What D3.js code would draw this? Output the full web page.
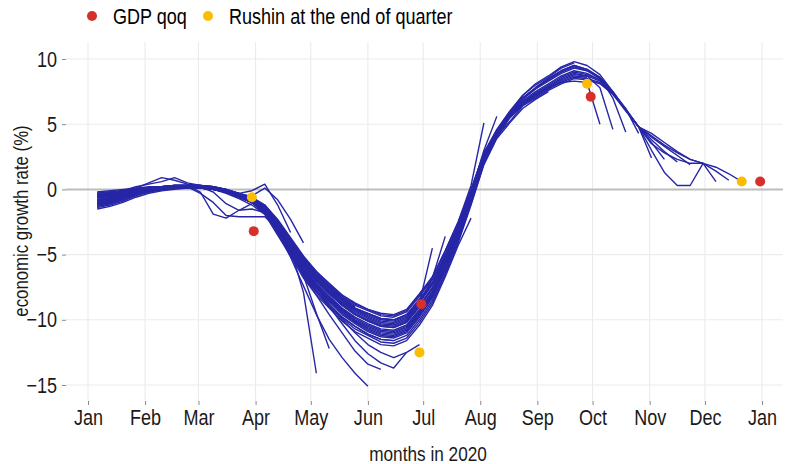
<!DOCTYPE html>
<html>
<head>
<meta charset="utf-8">
<script src="https://cdn.jsdelivr.net/npm/d3@7"></script>
<style>
body { margin: 0; background: #fff; }
text { font-family: "Liberation Sans", Arial, sans-serif; }
</style>
</head>
<body>
<svg id="chart"></svg>
<script>
// month ticks (first of each month) and their labels
const monthTicks = ['2020-01-01','2020-02-01','2020-03-01','2020-04-01','2020-05-01','2020-06-01',
  '2020-07-01','2020-08-01','2020-09-01','2020-10-01','2020-11-01','2020-12-01','2021-01-01']
const monthLabels = ['Jan','Feb','Mar','Apr','May','Jun','Jul','Aug','Sep','Oct','Nov','Dec','Jan']
const yTicks = [10, 5, 0, -5, -10, -15]

// GDP qoq at quarter ends
const gdpDates = ['2020-03-31','2020-06-30','2020-09-30','2020-12-31']
const gdpValues = [-3.2, -8.8, 7.1, 0.6]
// Rushin estimate at the end of each quarter
const rushinDates = ['2020-03-30','2020-06-29','2020-09-28','2020-12-21']
const rushinValues = [-0.6, -12.5, 8.1, 0.6]

// weekly nowcast vintages, each starts Mon 6 Jan 2020, one value per week
const vintages = [
  [-0.6,-0.4,-0.2,0.1,0.5,0.9,0.7,0.4,0.3,0.2,-0.1,-0.3],
  [-0.4,-0.3,-0.2,0.0,0.1,0.2,0.3,0.3,-0.2,-1.9,-2.2,-1.6,-1.1],
  [-0.5,-0.3,-0.1,0.2,0.4,0.6,0.9,0.5,0.3,0.2,0.0,-0.3,-0.6,-1.2],
  [-0.3,-0.2,-0.1,0.0,0.1,0.2,0.3,0.3,0.3,0.2,0.0,-0.3,-0.1,0.4,-1.2,-3.3],
  [-0.4,-0.3,-0.1,0.0,0.1,0.2,0.3,0.3,0.2,0.1,-0.1,-0.4,-0.5,0.1,-0.8,-2.3,-4.1],
  [-0.5,-0.4,-0.2,-0.1,0.1,0.2,0.2,0.2,-0.3,-1.0,-2.0,-2.1,-2.1,-2.1,-3.0,-4.6,-7.9,-14.1],
  [-0.6,-0.5,-0.3,-0.1,0.1,0.2,0.3,0.3,0.2,-0.2,-1.1,-1.6,-1.5,-1.8,-2.9,-4.4,-6.6,-9.5,-12.2],
  [-0.9,-0.7,-0.5,-0.2,0.0,0.1,0.2,0.2,0.2,0.1,-0.2,-0.5,-0.9,-1.7,-3.1,-4.6,-6.2,-7.4,-8.4,-9.3],
  [-1.0,-0.8,-0.5,-0.3,-0.1,0.1,0.2,0.2,0.1,0.0,-0.2,-0.5,-0.9,-1.3,-2.5,-3.9,-5.3,-6.5,-7.4,-8.3,-9.0],
  [-0.7,-0.5,-0.3,-0.1,0.0,0.1,0.2,0.2,0.1,0.0,-0.3,-0.7,-1.2,-1.9,-3.3,-5.2,-7.4,-9.6,-11.5,-12.9,-14.1,-15.1],
  [-1.1,-0.9,-0.6,-0.3,-0.1,0.0,0.1,0.2,0.1,0.0,-0.2,-0.6,-1.0,-1.8,-3.2,-4.9,-6.6,-8.1,-9.6,-11.0,-12.4,-13.4,-13.8],
  [-0.8,-0.6,-0.4,-0.2,0.0,0.1,0.2,0.2,0.2,0.1,-0.1,-0.5,-0.8,-1.8,-3.3,-4.9,-6.5,-7.8,-8.8,-9.8,-10.5,-11.1,-11.5,-11.6],
  [-1.2,-1.0,-0.7,-0.4,-0.1,0.0,0.1,0.2,0.2,0.1,-0.1,-0.5,-0.9,-1.7,-3.1,-4.7,-6.3,-7.7,-9.0,-10.3,-11.6,-12.6,-13.3,-13.7,-12.5],
  [-1.5,-1.3,-1.0,-0.6,-0.3,-0.1,0.0,0.1,0.1,0.0,-0.2,-0.6,-1.0,-1.6,-2.9,-4.5,-6.1,-7.5,-8.8,-10.0,-11.0,-11.9,-12.5,-12.9,-12.5,-11.9],
  [-0.4,-0.3,-0.2,0.0,0.1,0.2,0.2,0.2,0.2,0.1,-0.1,-0.4,-0.7,-1.3,-2.5,-3.9,-5.4,-6.6,-7.5,-8.4,-9.1,-9.5,-9.9,-10.0,-9.6,-8.7,-4.5],
  [-0.5,-0.4,-0.2,-0.1,0.1,0.2,0.2,0.2,0.2,0.1,-0.1,-0.4,-0.7,-1.4,-2.7,-4.2,-5.7,-6.9,-7.8,-8.7,-9.4,-9.9,-10.3,-10.4,-10.0,-8.8,-6.8,-3.6],
  [-1.0,-0.8,-0.5,-0.3,-0.1,0.1,0.2,0.2,0.1,0.0,-0.2,-0.5,-0.9,-1.7,-3.1,-4.7,-6.2,-7.5,-8.5,-9.4,-10.1,-10.7,-11.1,-11.2,-10.8,-9.6,-8.1,-6.0,-3.7],
  [-1.4,-1.2,-0.9,-0.5,-0.2,0.0,0.1,0.2,0.2,0.1,-0.1,-0.5,-0.9,-1.9,-3.5,-5.1,-6.8,-8.1,-9.1,-10.1,-10.9,-11.4,-11.9,-12.0,-11.6,-10.4,-8.9,-6.7,-4.3,-2.2],
  [-0.3,-0.2,-0.1,0.0,0.1,0.2,0.3,0.3,0.3,0.2,0.0,-0.3,-0.6,-1.2,-2.3,-3.7,-5.1,-6.3,-7.2,-8.1,-8.7,-9.2,-9.5,-9.6,-9.2,-8.0,-6.7,-4.7,-2.5,0.3,5.1],
  [-0.8,-0.6,-0.4,-0.2,0.0,0.1,0.2,0.2,0.2,0.1,-0.1,-0.5,-0.8,-1.4,-2.6,-4.1,-5.5,-6.7,-7.7,-8.6,-9.2,-9.7,-10.1,-10.2,-9.8,-8.6,-7.2,-5.2,-2.9,-0.3,3.0,5.6],
  [-1.2,-1.0,-0.7,-0.4,-0.1,0.0,0.1,0.2,0.2,0.1,-0.1,-0.5,-0.9,-1.7,-3.2,-4.8,-6.4,-7.6,-8.6,-9.6,-10.3,-10.9,-11.3,-11.4,-11.0,-9.8,-8.3,-6.2,-3.8,-1.0,2.0,4.1,5.2,6.4],
  [-1.1,-0.9,-0.6,-0.3,-0.1,0.0,0.1,0.2,0.1,0.0,-0.2,-0.6,-1.0,-1.9,-3.4,-5.0,-6.6,-7.9,-9.0,-9.9,-10.7,-11.2,-11.7,-11.8,-11.4,-10.2,-8.7,-6.5,-4.1,-1.2,1.9,3.9,5.1,6.2,6.9,7.5],
  [-0.9,-0.7,-0.5,-0.2,0.0,0.1,0.2,0.2,0.2,0.1,-0.2,-0.5,-0.9,-1.3,-2.4,-3.8,-5.2,-6.4,-7.4,-8.2,-8.9,-9.3,-9.7,-9.8,-9.4,-8.2,-6.9,-4.8,-2.6,0.0,2.8,4.5,5.9,7.2,8.0,8.6,9.3,9.7],
  [-1.0,-0.8,-0.5,-0.3,-0.1,0.1,0.2,0.2,0.1,0.0,-0.2,-0.5,-0.9,-1.5,-2.8,-4.3,-5.8,-7.0,-8.0,-8.9,-9.6,-10.1,-10.5,-10.6,-10.2,-9.0,-7.6,-5.5,-3.2,-0.5,2.4,4.3,5.5,6.5,7.2,7.8,8.2,8.3,8.2,5.0],
  [-1.3,-1.1,-0.8,-0.4,-0.2,0.0,0.1,0.1,0.1,0.0,-0.2,-0.6,-1.0,-1.6,-3.0,-4.5,-6.1,-7.3,-8.3,-9.2,-10.0,-10.5,-10.9,-11.0,-10.6,-9.4,-8.0,-5.8,-3.5,-0.7,2.2,4.2,5.6,6.6,7.3,7.8,8.4,8.8,8.7,7.8,4.6],
  [-0.6,-0.5,-0.3,-0.1,0.0,0.1,0.2,0.2,0.2,0.1,-0.1,-0.4,-0.8,-1.4,-2.6,-4.0,-5.5,-6.6,-7.6,-8.5,-9.2,-9.6,-10.0,-10.1,-9.7,-8.5,-7.2,-5.1,-2.8,-0.2,2.6,4.5,5.9,7.0,7.8,8.5,9.1,9.5,9.2,8.6,7.0,4.4],
  [-1.1,-0.9,-0.6,-0.3,-0.1,0.0,0.1,0.2,0.1,0.0,-0.2,-0.6,-1.0,-1.8,-3.3,-4.9,-6.5,-7.8,-8.8,-9.8,-10.5,-11.1,-11.5,-11.6,-11.2,-10.0,-8.5,-6.4,-4.0,-1.1,2.0,4.0,5.5,6.5,7.1,7.7,8.2,8.6,8.5,8.2,7.3,6.2,4.3],
  [-0.9,-0.7,-0.5,-0.2,0.0,0.1,0.2,0.2,0.2,0.1,-0.2,-0.5,-0.9,-1.2,-2.4,-3.8,-5.2,-6.3,-7.3,-8.1,-8.8,-9.2,-9.6,-9.7,-9.3,-8.1,-6.8,-4.7,-2.5,0.0,2.8,4.6,6.0,7.2,8.1,8.7,9.4,9.8,9.5,8.8,7.5,6.2,4.8,2.4],
  [-0.8,-0.6,-0.4,-0.2,0.0,0.1,0.2,0.2,0.2,0.1,-0.1,-0.5,-0.8,-1.4,-2.7,-4.1,-5.6,-6.8,-7.8,-8.7,-9.3,-9.8,-10.2,-10.3,-9.9,-8.7,-7.3,-5.3,-3.0,-0.3,2.5,4.4,5.8,6.9,7.7,8.3,8.9,9.3,9.1,8.5,7.4,6.1,4.8,3.6,2.3],
  [-1.2,-1.0,-0.7,-0.4,-0.1,0.0,0.1,0.2,0.2,0.1,-0.1,-0.5,-0.9,-1.7,-3.2,-4.7,-6.3,-7.5,-8.6,-9.5,-10.2,-10.8,-11.2,-11.3,-10.9,-9.7,-8.2,-6.1,-3.7,-0.9,2.1,4.1,5.5,6.4,7.0,7.6,8.1,8.5,8.4,8.1,7.3,6.0,4.8,4.0,3.3,2.6,1.9],
  [-1.0,-0.8,-0.5,-0.3,-0.1,0.1,0.2,0.2,0.1,0.0,-0.2,-0.5,-0.9,-1.6,-3.0,-4.5,-6.0,-7.2,-8.2,-9.2,-9.9,-10.4,-10.8,-10.9,-10.5,-9.3,-7.9,-5.8,-3.4,-0.7,2.3,4.2,5.6,6.7,7.3,7.9,8.5,8.9,8.7,8.3,7.4,6.1,4.8,3.0,1.3,0.3,0.3,2.0,0.6],
  [-0.6,-0.5,-0.3,-0.1,0.0,0.1,0.2,0.2,0.2,0.1,-0.1,-0.4,-0.8,-1.5,-2.8,-4.2,-5.7,-6.9,-7.9,-8.8,-9.5,-10.0,-10.4,-10.5,-10.1,-8.9,-7.5,-5.4,-3.1,-0.4,2.4,4.3,5.9,7.0,7.8,8.5,9.1,9.5,9.2,8.6,7.5,6.1,4.8,4.3,3.6,2.9,2.3,2.0,1.4,0.7],
  [-1.1,-0.9,-0.6,-0.3,-0.1,0.0,0.1,0.2,0.1,0.0,-0.2,-0.6,-1.0,-1.6,-2.9,-4.4,-5.9,-7.2,-8.2,-9.1,-9.8,-10.3,-10.7,-10.8,-10.4,-9.2,-7.8,-5.7,-3.4,-0.6,2.3,4.2,5.7,6.8,7.5,8.1,8.7,9.1,8.9,8.4,7.4,6.1,4.8,3.5,2.8,2.3,2.0,2.0,1.7,1.2,0.6],
  [-0.2,-0.1,0.0,0.1,0.2,0.2,0.3,0.3,0.3,0.2,0.0,-0.3,-0.6,-1.5,-2.8,-4.3,-5.8,-7.0,-8.0,-8.9,-9.6,-10.1,-10.5,-10.6,-10.2,-9.0,-7.6,-5.5,-3.2,-0.5,2.4,4.3,5.7,6.7,7.4,8.0,8.6,9.0,8.8,8.4,7.4,6.1,4.8,3.8,2.9,2.1],
  [-1.3,-1.1,-0.8,-0.4,-0.2,0.0,0.1,0.1,0.1,0.0,-0.2,-0.6,-1.0,-1.3,-2.5,-3.9,-5.4,-6.6,-7.5,-8.4,-9.1,-9.5,-9.9,-10.0,-9.6,-8.4,-7.1,-5.0,-2.8,-0.1,2.7,4.5,5.8,7.0,7.7,8.4,9.0,9.4,9.1,8.6,7.5,6.1,4.8,4.1,3.4,2.8,2.3,2.0],
  [-0.5,-0.4,-0.2,-0.1,0.1,0.2,0.2,0.2,0.2,0.1,-0.1,-0.4,-0.7,-1.7,-3.1,-4.6,-6.2,-7.4,-8.4,-9.3,-10.1,-10.6,-11.0,-11.1,-10.7,-9.5,-8.1,-5.9,-3.6,-0.8,2.2,4.2,5.5,6.6,7.2,7.7,8.3,8.7,8.6]
]

const W = 788, H = 464
const narrow = 0.82   // squeeze Liberation Sans to a narrow face
const panel = { left: 66, right: 783, top: 42, bottom: 401 }
const parse = d3.timeParse('%Y-%m-%d')
const weeks = d3.timeMonday.range(new Date(2020, 0, 6), new Date(2021, 0, 1))

const svg = d3.select('#chart').attr('width', W).attr('height', H)

const x = d3.scaleTime()
    .domain([new Date(2020, 0, 1), new Date(2021, 0, 1)])
    .range([88, 762])
const y = d3.scaleLinear()
    .domain([-15, 10])
    .range([385, 59])

// grid
const grid = svg.append('g')
grid.selectAll('.vgrid').data(monthTicks).enter()
    .append('line')
    .attr('x1', d => x(parse(d))).attr('x2', d => x(parse(d)))
    .attr('y1', panel.top).attr('y2', panel.bottom)
    .attr('stroke', '#ebebeb').attr('stroke-width', 1.1)
grid.selectAll('.hgrid').data(yTicks).enter()
    .append('line')
    .attr('x1', panel.left).attr('x2', panel.right)
    .attr('y1', d => y(d)).attr('y2', d => y(d))
    .attr('stroke', d => d === 0 ? '#bdbdbd' : '#ebebeb')
    .attr('stroke-width', d => d === 0 ? 2 : 1.1)

// axes
const xAxis = d3.axisBottom(x)
    .tickValues(monthTicks.map(parse))
    .tickFormat((d, i) => monthLabels[i])
    .tickSize(4).tickPadding(4)
const gx = svg.append('g').attr('transform', `translate(0,${panel.bottom})`).call(xAxis)
const yAxis = d3.axisLeft(y).tickValues(yTicks).tickSize(4).tickPadding(5)
const gy = svg.append('g').attr('transform', `translate(${panel.left},0)`).call(yAxis)
;[gx, gy].forEach(g => {
    g.select('.domain').remove()
    g.selectAll('.tick line').attr('stroke', '#8a8a8a')
    g.selectAll('.tick text')
        .attr('fill', '#1a1a1a')
        .style('font-size', '22px')
        .attr('transform', `scale(${narrow},1)`)
})
gy.selectAll('.tick text').attr('x', -9 / narrow)

// vintages
const line = d3.line()
    .x((d, i) => x(weeks[i]))
    .y(d => y(d))
svg.append('g').selectAll('path').data(vintages).enter()
    .append('path')
    .attr('d', line)
    .attr('fill', 'none')
    .attr('stroke', '#2626a6')
    .attr('stroke-width', 1.4)
    .attr('stroke-linejoin', 'round')

// points
svg.append('g').selectAll('circle').data(rushinValues).enter()
    .append('circle')
    .attr('cx', (d, i) => x(parse(rushinDates[i])))
    .attr('cy', d => y(d))
    .attr('r', 5)
    .attr('fill', '#fbbc04')
svg.append('g').selectAll('circle').data(gdpValues).enter()
    .append('circle')
    .attr('cx', (d, i) => x(parse(gdpDates[i])))
    .attr('cy', d => y(d))
    .attr('r', 5)
    .attr('fill', '#d7302a')

// axis titles
svg.append('g')
    .attr('transform', `translate(428,461) scale(${narrow},1)`)
    .append('text')
    .attr('text-anchor', 'middle')
    .attr('fill', '#1a1a1a')
    .style('font-size', '21px')
    .text('months in 2020')
svg.append('g')
    .attr('transform', `translate(28,221) rotate(-90) scale(${narrow},1)`)
    .append('text')
    .attr('text-anchor', 'middle')
    .attr('fill', '#1a1a1a')
    .style('font-size', '20.5px')
    .text('economic growth rate (%)')

// legend
const legend = [
    { label: 'GDP qoq', color: '#d7302a', cx: 92, tx: 113 },
    { label: 'Rushin at the end of quarter', color: '#fbbc04', cx: 208, tx: 229 }
]
const lg = svg.append('g')
lg.selectAll('circle').data(legend).enter()
    .append('circle')
    .attr('cx', d => d.cx).attr('cy', 16).attr('r', 5)
    .attr('fill', d => d.color)
lg.selectAll('g').data(legend).enter()
    .append('g')
    .attr('transform', d => `translate(${d.tx},24) scale(${narrow},1)`)
    .append('text')
    .attr('fill', '#000')
    .style('font-size', '22px')
    .text(d => d.label)
</script>
</body>
</html>
